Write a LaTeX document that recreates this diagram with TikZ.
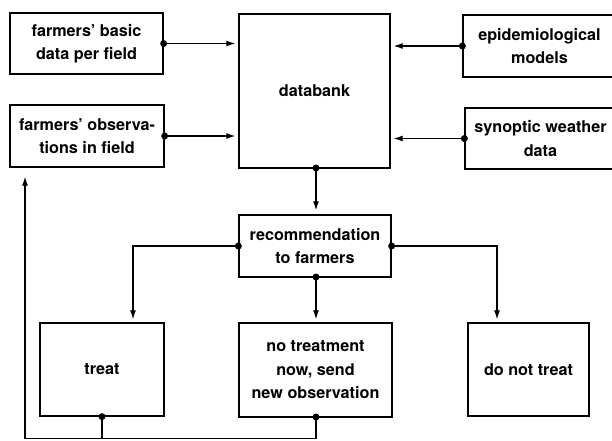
\documentclass[tikz,border=0pt]{standalone}
\usepackage{fontspec}
\setmainfont{TeX Gyre Heros}
\usetikzlibrary{arrows.meta}
\begin{document}
\begin{tikzpicture}[x=1pt,y=-1pt,
  box/.style={draw,line width=1.3pt,inner sep=0pt,align=center,
    font=\fontsize{16.2}{23.5}\selectfont\bfseries},
  link/.style={line width=1.2pt,-{Latex[length=9pt,width=6pt]},shorten >=3pt},
  plain/.style={line width=1.2pt},
  dot/.style={circle,fill,inner sep=0pt,minimum size=7pt}]
\useasboundingbox (0,0) rectangle (612,440);
\clip (0,0) rectangle (612,440);
% input boxes
\node[box,minimum width=153pt,minimum height=61pt] (basic) at (86.5,43.5) {farmers’ basic\\data per field};
\node[box,minimum width=154pt,minimum height=62pt] (obs) at (87,136) {farmers’ observa-\\tions in field};
\node[box,minimum width=151pt,minimum height=154pt] (db) at (314.5,91) {databank};
\node[box,minimum width=153pt,minimum height=62pt] (epi) at (539.5,46) {epidemiological\\models};
\node[box,minimum width=151pt,minimum height=61pt] (syn) at (540.5,138.5) {synoptic weather\\data};
% recommendation and outcomes
\node[box,minimum width=152pt,minimum height=62pt] (rec) at (315,246) {recommendation\\to farmers};
\node[box,minimum width=124pt,minimum height=93pt] (treat) at (102,369.5) {treat};
\node[box,minimum width=153pt,minimum height=94pt] (notr) at (315.5,370) {no treatment\\now, send\\new observation};
\node[box,minimum width=121pt,minimum height=93pt] (dont) at (528.5,369.5) {do not treat};
% junction points
\coordinate (dbS) at (316,168);
\coordinate (recL) at (rec.west);
\coordinate (recR) at (rec.east);
\coordinate (recS) at (316,277);
\coordinate (tS) at (treat.south);
\coordinate (nS) at (316,417);
\coordinate (loopR) at (316,438.5);
\coordinate (loopL) at (25,438.5);
% data into the databank
\draw[link] (basic.east) -- (basic.east -| db.west);
\draw[link] (obs.east) -- (obs.east -| db.west);
\draw[link] (epi.west) -- (epi.west -| db.east);
\draw[link] (syn.west) -- (syn.west -| db.east);
\draw[link,shorten >=4pt] (dbS) -- (dbS |- rec.north);
% recommendation branches
\draw[link] (recL) -| (133,0 |- treat.north);
\draw[link] (recS) -- (recS |- notr.north);
\draw[link] (recR) -| (497,0 |- dont.north);
% feedback loop to new observations
\draw[plain] (tS) -- (tS |- loopL);
\draw[plain] (nS) -- (loopR) -- (loopL);
\draw[link,shorten >=9pt] (loopL) -- (loopL |- obs.south);
% connection dots
\foreach \p in {basic.east,obs.east,epi.west,syn.west,dbS,recL,recR,recS,tS,nS}
  \node[dot] at (\p) {};
\end{tikzpicture}
\end{document}
